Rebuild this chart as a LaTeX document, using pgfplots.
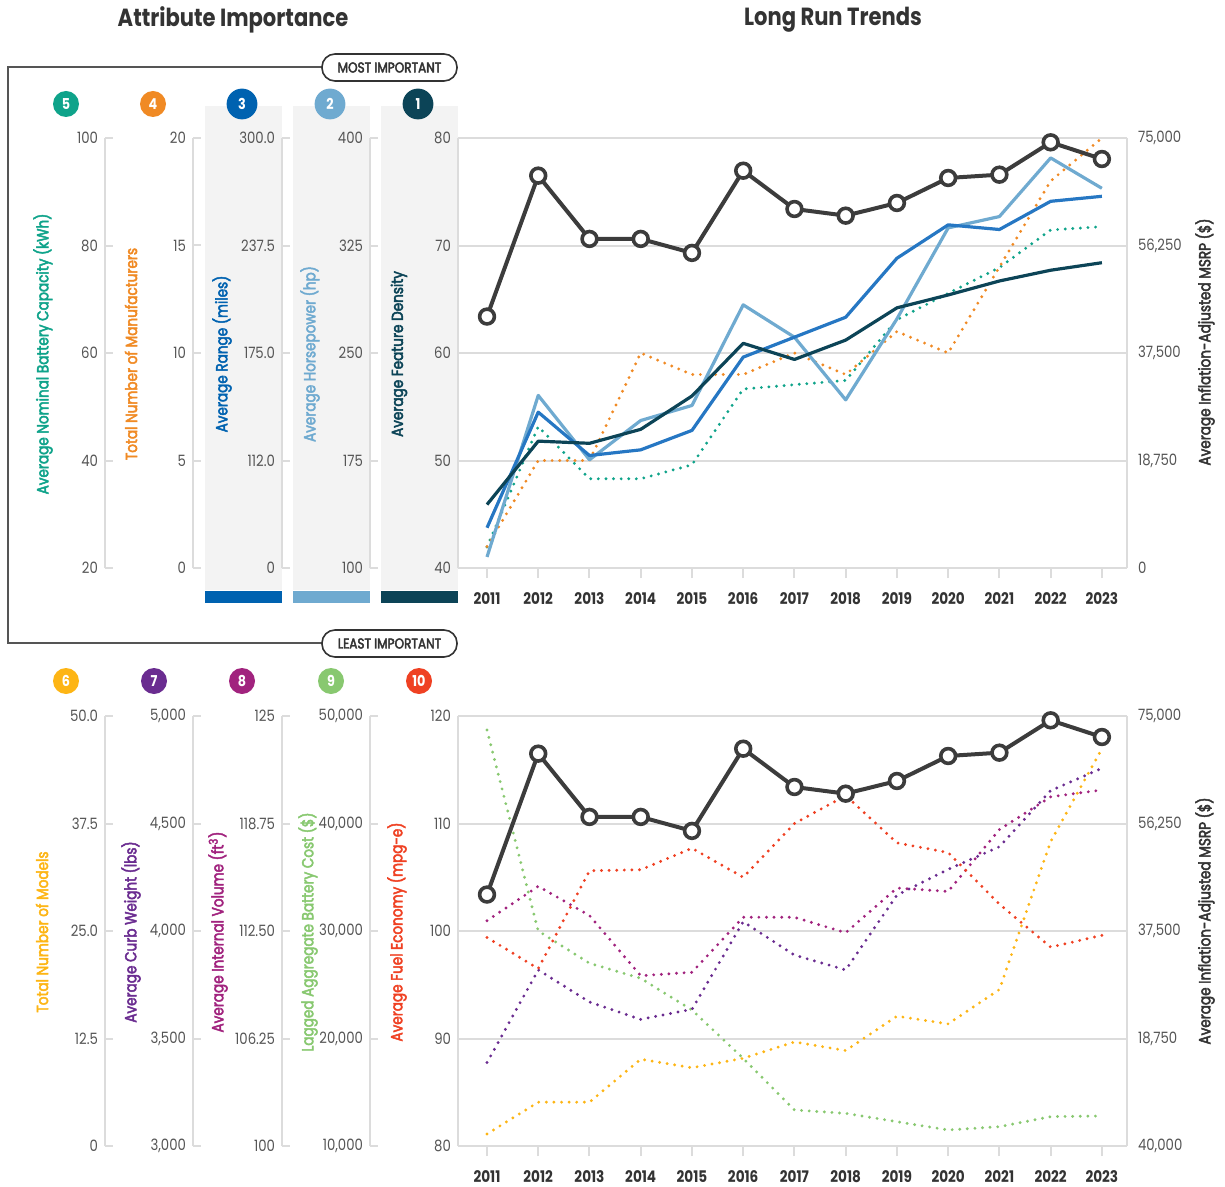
\documentclass[border=0pt]{standalone}
\usepackage{fontspec}
\setmainfont{Poppins}[FakeStretch=0.85]
\newfontfamily\medfont{Poppins}[FakeStretch=0.85, FakeBold=3]
\usepackage{pgfplots}
\pgfplotsset{compat=1.18}
\usepackage{pgfplotstable}

\definecolor{cBat}{HTML}{0FA38A}
\definecolor{cMan}{HTML}{F08A24}
\definecolor{cRng}{HTML}{2677C3}
\definecolor{cRngD}{HTML}{0062B0}
\definecolor{cHp}{HTML}{6FAAD0}
\definecolor{cFd}{HTML}{0C4457}
\definecolor{cMod}{HTML}{FDB515}
\definecolor{cCurb}{HTML}{6A2C90}
\definecolor{cVol}{HTML}{A1237E}
\definecolor{cCost}{HTML}{88C870}
\definecolor{cFuel}{HTML}{EF4123}
\definecolor{cMsrp}{HTML}{3C3C3C}
\definecolor{cGrid}{HTML}{DCDCDC}
\definecolor{cTick}{HTML}{555555}
\definecolor{cPanel}{HTML}{F3F3F3}
\definecolor{cDark}{HTML}{333333}

\newcommand{\tickfont}{\fontsize{7.8}{9}\selectfont}
\newcommand{\yearfont}{\bfseries\fontsize{8}{9}\selectfont}
\newcommand{\labfont}{\medfont\fontsize{8}{9}\selectfont}

\pgfplotstableread{
year msrp fd rng hp bat man
2011 43860 45.9 73.4 107.7 23.9 1
2012 68440 51.8 140.6 220.4 46.3 5
2013 57400 51.6 115.4 175.5 36.6 5
2014 57400 52.9 118.7 202.9 36.6 10
2015 54960 56.0 130.0 213.4 39.2 9
2016 69300 60.9 172.6 283.6 53.3 9
2017 62620 59.4 184.2 261.0 54.1 10
2018 61460 61.2 195.8 217.3 54.9 9
2019 63670 64.2 230.1 273.8 66.2 11
2020 68030 65.4 249.5 337.3 71.1 10
2021 68610 66.7 246.8 345.2 75.9 14
2022 74250 67.7 263.2 386.1 82.9 18
2023 71340 68.4 266.1 364.9 83.5 20
}\topdata

\pgfplotstableread{
year msrp mod curb vol cost fuel
2011 43860 1.4 3388 113.1 48700 99.4
2012 68440 5.1 3819 115.1 30000 96.5
2013 57400 5.1 3670 113.4 27000 105.6
2014 57400 10.1 3589 109.9 25600 105.7
2015 54960 9.1 3636 110.1 22650 107.7
2016 69300 10.2 4043 113.3 18150 105.0
2017 62620 12.1 3888 113.3 13350 110.0
2018 61460 11.1 3819 112.4 13040 112.6
2019 63670 15.1 4167 115.0 12260 108.2
2020 68030 14.2 4287 114.8 11490 107.3
2021 68610 18.2 4392 118.4 11800 102.5
2022 74250 35.4 4653 120.3 12730 98.5
2023 71340 46.2 4757 120.7 12790 99.6
}\botdata

\pgfplotsset{
  base/.style={scale only axis, width=334.5pt, height=215pt, anchor=south west,
    xmin=2010.434, xmax=2023.49, clip=false, scaled y ticks=false},
  seriesaxis/.style={base, hide axis},
  leftscale/.style={scale only axis, width=0.5pt, height=215pt, anchor=south west,
    xmin=0, xmax=1, axis x line=none, axis y line*=left, xtick=\empty,
    scaled y ticks=false,
    ytick align=inside, major tick length=4pt,
    y axis line style={cGrid, line width=1pt}, ytick style={cGrid, line width=1pt},
    yticklabel style={text=cTick, font=\tickfont}},
  dotser/.style={line width=1.6pt, dash pattern=on 0pt off 3.8pt, line cap=round, no marks},
  solser/.style={line width=1.6pt, no marks, line join=round},
  msrpser/.style={cMsrp, line width=2pt, mark=*, mark size=3.7pt,
    mark options={fill=white, draw=cMsrp, line width=1.8pt, solid}},
  mainaxis/.style={base, axis x line*=bottom, axis y line*=left,
    xtick={2011,...,2023},
    xticklabels={2011,2012,2013,2014,2015,2016,2017,2018,2019,2020,2021,2022,2023},
    ymajorgrids, grid style={cGrid, line width=1pt},
    axis line style={cGrid, line width=1pt}, tick style={cGrid, line width=1pt},
    xtick align=outside, ytick align=inside, major tick length=5pt,
    xticklabel style={font=\yearfont, text=cDark, yshift=-3.5pt},
    yticklabel style={text=cTick, font=\tickfont}},
  msrpaxis/.style={base, axis x line=none, axis y line*=right, xtick=\empty,
    ymin=0, ymax=75000, ytick={0,18750,37500,56250,75000},
    major tick length=0pt, y axis line style={cGrid, line width=1pt},
    yticklabel style={text=cTick, font=\tickfont, xshift=2pt}},
}

\begin{document}
\begin{tikzpicture}
\useasboundingbox (0,0) rectangle (612.5pt,-593.5pt);

\begin{scope}[x=0.5pt,y=-0.5pt]
  % titles
  \node[font=\bfseries\fontsize{12.4}{14}\selectfont, text=cDark] at (233,20) {Attribute Importance};
  \node[font=\bfseries\fontsize{12.4}{14}\selectfont, text=cDark] at (833,20) {Long Run Trends};
  % panels
  \fill[cPanel] (205,106) rectangle (282,590);
  \fill[cPanel] (293,106) rectangle (370,590);
  \fill[cPanel] (381,106) rectangle (458,590);
  \fill[cRngD] (205,591) rectangle (282,603);
  \fill[cHp] (293,591) rectangle (370,603);
  \fill[cFd] (381,591) rectangle (458,603);
  % bracket
  \draw[cTick, line width=0.8pt] (322,67) -- (8,67) -- (8,643) -- (322,643);
  \draw[cDark, line width=0.8pt, rounded corners=6.5pt, fill=white] (322,54) rectangle (457,81);
  \node[font=\medfont\fontsize{7.1}{8}\selectfont, text=cDark] at (389.5,67.5) {MOST IMPORTANT};
  \draw[cDark, line width=0.8pt, rounded corners=6.5pt, fill=white] (322,630) rectangle (457,657);
  \node[font=\medfont\fontsize{7.1}{8}\selectfont, text=cDark] at (389.5,643.5) {LEAST IMPORTANT};
  % badges top
  \foreach \xx/\cc/\nn/\rr in {66/cBat/5/6.5pt, 153/cMan/4/6.5pt, 242/cRngD/3/7.7pt, 330/cHp/2/7.7pt, 418/cFd/1/7.7pt}{
    \fill[\cc] (\xx,104) circle[radius=\rr];
    \node[text=white, font=\bfseries\fontsize{7.5}{8}\selectfont] at (\xx,104) {\nn};
  }
  % badges bottom
  \foreach \xx/\cc/\nn in {66/cMod/6, 154/cCurb/7, 242/cVol/8, 331/cCost/9, 419/cFuel/10}{
    \fill[\cc] (\xx,681) circle[radius=6.5pt];
    \node[text=white, font=\bfseries\fontsize{7.5}{8}\selectfont] at (\xx,681) {\nn};
  }
  % axis labels top
  \node[rotate=90, text=cBat, font=\labfont] at (43,354) {Average Nominal Battery Capacity (kWh)};
  \node[rotate=90, text=cMan, font=\labfont] at (131,354) {Total Number of Manufacturers};
  \node[rotate=90, text=cRngD, font=\labfont] at (222,354) {Average Range (miles)};
  \node[rotate=90, text=cHp, font=\labfont] at (310,354) {Average Horsepower (hp)};
  \node[rotate=90, text=cFd, font=\labfont] at (399,354) {Average Feature Density};
  \node[rotate=90, text=cDark, font=\labfont] at (1205,342) {Average Inflation-Adjusted MSRP (\$)};
  % axis labels bottom
  \node[rotate=90, text=cMod, font=\labfont] at (42,932) {Total Number of Models};
  \node[rotate=90, text=cCurb, font=\labfont] at (131,932) {Average Curb Weight (lbs)};
  \node[rotate=90, text=cVol, font=\labfont] at (218,932) {Average Internal Volume (ft\textsuperscript{3})};
  \node[rotate=90, text=cCost, font=\labfont] at (308,932) {Lagged Aggregate Battery Cost (\$)};
  \node[rotate=90, text=cFuel, font=\labfont] at (397,932) {Average Fuel Economy (mpg-e)};
  \node[rotate=90, text=cDark, font=\labfont] at (1205,921) {Average Inflation-Adjusted MSRP (\$)};
\end{scope}

% ===== TOP left scales =====
\begin{axis}[leftscale, at={(52.5pt,-284pt)}, ymin=20, ymax=100,
  ytick={20,40,60,80,100}, yticklabels={20,40,60,80,100}]
\end{axis}
\begin{axis}[leftscale, at={(96.5pt,-284pt)}, ymin=0, ymax=20,
  ytick={0,5,10,15,20}, yticklabels={0,5,10,15,20}]
\end{axis}
\begin{axis}[leftscale, at={(141pt,-284pt)}, ymin=50, ymax=300,
  ytick={50,112.5,175,237.5,300}, yticklabels={0,112.0,175.0,237.5,300.0}]
\end{axis}
\begin{axis}[leftscale, at={(185pt,-284pt)}, ymin=100, ymax=400,
  ytick={100,175,250,325,400}, yticklabels={100,175,250,325,400}]
\end{axis}

% ===== TOP main =====
\begin{axis}[mainaxis, at={(229pt,-284pt)}, ymin=40, ymax=80,
  ytick={40,50,60,70,80}, yticklabels={40,50,60,70,80}]
\end{axis}
\begin{axis}[seriesaxis, at={(229pt,-284pt)}, ymin=20, ymax=100]
  \addplot[dotser, cBat] table[x=year, y=bat] {\topdata};
\end{axis}
\begin{axis}[seriesaxis, at={(229pt,-284pt)}, ymin=0, ymax=20]
  \addplot[dotser, cMan] table[x=year, y=man] {\topdata};
\end{axis}
\begin{axis}[seriesaxis, at={(229pt,-284pt)}, ymin=100, ymax=400]
  \addplot[solser, cHp] table[x=year, y=hp] {\topdata};
\end{axis}
\begin{axis}[seriesaxis, at={(229pt,-284pt)}, ymin=50, ymax=300]
  \addplot[solser, cRng] table[x=year, y=rng] {\topdata};
\end{axis}
\begin{axis}[seriesaxis, at={(229pt,-284pt)}, ymin=40, ymax=80]
  \addplot[solser, cFd] table[x=year, y=fd] {\topdata};
\end{axis}
\begin{axis}[msrpaxis, at={(229pt,-284pt)},
  yticklabels={0,{18,750},{37,500},{56,250},{75,000}}]
  \addplot[msrpser] table[x=year, y=msrp] {\topdata};
\end{axis}

% ===== BOTTOM left scales =====
\begin{axis}[leftscale, at={(52.5pt,-573pt)}, ymin=0, ymax=50,
  ytick={0,12.5,25,37.5,50}, yticklabels={0,12.5,25.0,37.5,50.0}]
\end{axis}
\begin{axis}[leftscale, at={(96.5pt,-573pt)}, ymin=3000, ymax=5000,
  ytick={3000,3500,4000,4500,5000}, yticklabels={{3,000},{3,500},{4,000},{4,500},{5,000}}]
\end{axis}
\begin{axis}[leftscale, at={(141pt,-573pt)}, ymin=100, ymax=125,
  ytick={100,106.25,112.5,118.75,125}, yticklabels={100,106.25,112.50,118.75,125}]
\end{axis}
\begin{axis}[leftscale, at={(185pt,-573pt)}, ymin=10000, ymax=50000,
  ytick={10000,20000,30000,40000,50000}, yticklabels={{10,000},{20,000},{30,000},{40,000},{50,000}}]
\end{axis}

% ===== BOTTOM main =====
\begin{axis}[mainaxis, at={(229pt,-573pt)}, ymin=80, ymax=120,
  ytick={80,90,100,110,120}, yticklabels={80,90,100,110,120}]
\end{axis}
\begin{axis}[seriesaxis, at={(229pt,-573pt)}, ymin=0, ymax=50]
  \addplot[dotser, cMod] table[x=year, y=mod] {\botdata};
\end{axis}
\begin{axis}[seriesaxis, at={(229pt,-573pt)}, ymin=10000, ymax=50000]
  \addplot[dotser, cCost] table[x=year, y=cost] {\botdata};
\end{axis}
\begin{axis}[seriesaxis, at={(229pt,-573pt)}, ymin=3000, ymax=5000]
  \addplot[dotser, cCurb] table[x=year, y=curb] {\botdata};
\end{axis}
\begin{axis}[seriesaxis, at={(229pt,-573pt)}, ymin=100, ymax=125]
  \addplot[dotser, cVol] table[x=year, y=vol] {\botdata};
\end{axis}
\begin{axis}[seriesaxis, at={(229pt,-573pt)}, ymin=80, ymax=120]
  \addplot[dotser, cFuel] table[x=year, y=fuel] {\botdata};
\end{axis}
\begin{axis}[msrpaxis, at={(229pt,-573pt)},
  yticklabels={{40,000},{18,750},{37,500},{56,250},{75,000}}]
  \addplot[msrpser] table[x=year, y=msrp] {\botdata};
\end{axis}

\end{tikzpicture}
\end{document}
